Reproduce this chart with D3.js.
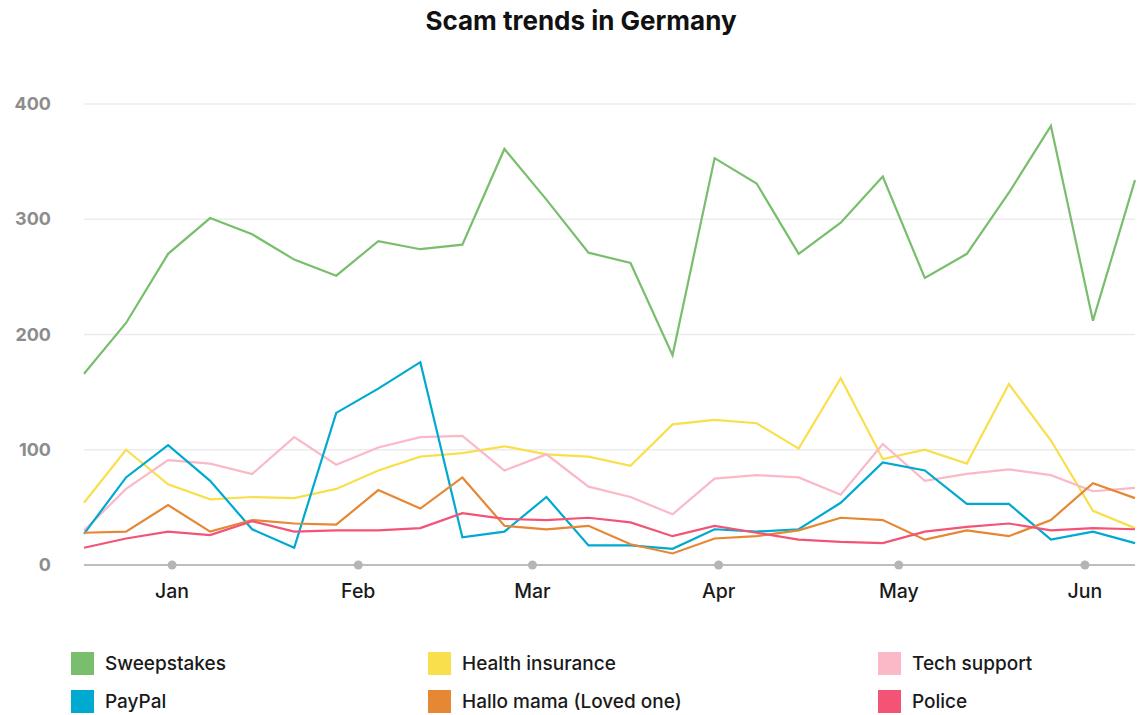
<!DOCTYPE html>
<meta charset="utf-8">
<title>Scam trends in Germany</title>
<style>
  body { margin: 0; background: #fff; font-family: Inter, "Open Sans", sans-serif; }
</style>
<body>
  <script src="https://d3js.org/d3.v7.min.js"></script>
  <script>
    const width = 1147;
    const height = 715;

    // weekly data points
    const weeks = [
      "2023-12-17", "2023-12-24", "2023-12-31", "2024-01-07", "2024-01-14", "2024-01-21", "2024-01-28",
      "2024-02-04", "2024-02-11", "2024-02-18", "2024-02-25", "2024-03-03", "2024-03-10", "2024-03-17",
      "2024-03-24", "2024-03-31", "2024-04-07", "2024-04-14", "2024-04-21", "2024-04-28", "2024-05-05",
      "2024-05-12", "2024-05-19", "2024-05-26", "2024-06-02", "2024-06-09"
    ];
    const seriesNames = ["Sweepstakes", "Health insurance", "Tech support", "PayPal", "Hallo mama (Loved one)", "Police"];
    const sweepstakes = [166, 210, 270, 301, 287, 265, 251, 281, 274, 278, 361, 317, 271, 262, 182, 353, 331, 270, 297, 337, 249, 270, 323, 381, 212, 334];
    const healthInsurance = [54, 100, 70, 57, 59, 58, 66, 82, 94, 97, 103, 96, 94, 86, 122, 126, 123, 101, 162, 92, 100, 88, 157, 108, 47, 32];
    const techSupport = [30, 66, 91, 88, 79, 111, 87, 102, 111, 112, 82, 96, 68, 59, 44, 75, 78, 76, 61, 105, 73, 79, 83, 78, 64, 67];
    const paypal = [27, 76, 104, 73, 31, 15, 132, 153, 176, 24, 29, 59, 17, 17, 14, 31, 29, 31, 54, 89, 82, 53, 53, 22, 29, 19];
    const halloMama = [28, 29, 52, 29, 39, 36, 35, 65, 49, 76, 34, 31, 34, 18, 10, 23, 25, 30, 41, 39, 22, 30, 25, 39, 71, 58];
    const police = [15, 23, 29, 26, 38, 29, 30, 30, 32, 45, 40, 39, 41, 37, 25, 34, 28, 22, 20, 19, 29, 33, 36, 30, 32, 31];
    const yTicks = [0, 100, 200, 300, 400];
    const monthTicks = ["2024-01-01", "2024-02-01", "2024-03-01", "2024-04-01", "2024-05-01", "2024-06-01"];

    const colors = ["#78be6d", "#f9df4c", "#fbb8c7", "#00a9cf", "#e58733", "#f35476"];
    const values = [sweepstakes, healthInsurance, techSupport, paypal, halloMama, police];

    const parse = d3.timeParse("%Y-%m-%d");
    const dates = weeks.map(parse);
    const series = seriesNames.map((name, i) => ({
      name: name,
      color: colors[i],
      points: dates.map((d, j) => ({ date: d, value: values[i][j] }))
    }));

    const svg = d3.select("body")
      .append("svg")
      .attr("width", width)
      .attr("height", height);

    const x = d3.scaleTime()
      .domain(d3.extent(dates))
      .range([84, 1135]);

    const y = d3.scaleLinear()
      .domain([0, 400])
      .range([565, 104]);

    // title
    svg.append("text")
      .attr("x", 581)
      .attr("y", 30)
      .attr("text-anchor", "middle")
      .style("font-size", "26px")
      .style("font-weight", "700")
      .style("fill", "#111")
      .text("Scam trends in Germany");

    // gridlines
    svg.append("g")
      .selectAll("line")
      .data(yTicks.filter(d => d > 0))
      .enter()
      .append("line")
      .attr("x1", 84)
      .attr("x2", 1135)
      .attr("y1", d => y(d))
      .attr("y2", d => y(d))
      .style("stroke", "#ececec")
      .style("stroke-width", 1.5);

    // y labels
    svg.append("g")
      .selectAll("text")
      .data(yTicks)
      .enter()
      .append("text")
      .attr("x", 51)
      .attr("y", d => y(d) + 6)
      .attr("text-anchor", "end")
      .style("font-size", "18px")
      .style("font-weight", "700")
      .style("fill", "#8c8c8c")
      .text(d => d);

    // baseline with month dots
    svg.append("line")
      .attr("x1", 84)
      .attr("x2", 1135)
      .attr("y1", y(0))
      .attr("y2", y(0))
      .style("stroke", "#bdbdbd")
      .style("stroke-width", 2);

    const months = monthTicks.map(parse);
    svg.append("g")
      .selectAll("circle")
      .data(months)
      .enter()
      .append("circle")
      .attr("cx", d => x(d) - 2)
      .attr("cy", y(0))
      .attr("r", 4.5)
      .style("fill", "#b5b5b5");

    svg.append("g")
      .selectAll("text")
      .data(months)
      .enter()
      .append("text")
      .attr("x", d => x(d) - 2)
      .attr("y", 598)
      .attr("text-anchor", "middle")
      .style("font-size", "19.5px")
      .style("font-weight", "500")
      .style("fill", "#1a1a1a")
      .text(d => d3.timeFormat("%b")(d));

    const line = d3.line()
      .x(d => x(d.date))
      .y(d => y(d.value));

    svg.append("g")
      .selectAll("path")
      .data(series)
      .enter()
      .append("path")
      .attr("d", d => line(d.points))
      .style("fill", "none")
      .style("stroke", d => d.color)
      .style("stroke-width", 2.2)
      .style("stroke-linejoin", "miter");

    // legend, 3 columns x 2 rows
    const legendX = [71, 428, 878];
    const legendY = [652, 690];
    const legend = svg.append("g")
      .selectAll("g")
      .data(series)
      .enter()
      .append("g")
      .attr("transform", (d, i) => "translate(" + legendX[i % 3] + "," + legendY[Math.floor(i / 3)] + ")");

    legend.append("rect")
      .attr("width", 23)
      .attr("height", 23)
      .style("fill", d => d.color);

    legend.append("text")
      .attr("x", 34)
      .attr("y", 18)
      .style("font-size", "19px")
      .style("font-weight", "500")
      .style("fill", "#1a1a1a")
      .text(d => d.name);
  </script>
</body>
